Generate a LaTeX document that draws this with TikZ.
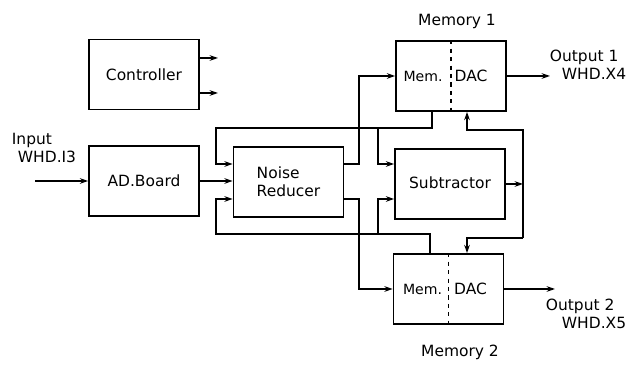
\documentclass[tikz,border=0pt]{standalone}
\usepackage{fontspec}
\newfontfamily\plotterfont{DejaVu Sans}
\usetikzlibrary{arrows.meta,positioning,calc}

\tikzset{
  blk/.style={draw,line width=1.1pt,minimum width=2.75cm,minimum height=1.75cm,inner sep=0pt},
  wire/.style={line width=1.1pt},
  txt/.style={inner sep=1pt}
}

\begin{document}
\begin{tikzpicture}[x=0.025cm,y=-0.025cm,>={Stealth[length=6pt,width=4pt]},
  font=\plotterfont\fontsize{11}{13}\selectfont]
\useasboundingbox (0,0) rectangle (637,365);
% blocks
\node[blk] (ctrl) at (144,74.5) {Controller};
\node[blk] (adb)  at (144,181) {AD.Board};
\node[blk,align=left] (nr) at (288.5,182) {Noise\\Reducer};
\node[blk] (sub)  at (450,184) {\raisebox{2pt}{Subtractor}};
\node[blk] (mem1) at (451,76) {};
\node[blk] (mem2) at (448.5,289) {};
\draw[dashed,line width=0.8pt] (mem1.north) -- (mem1.south);
\draw[dashed,line width=0.8pt] (mem2.north) -- (mem2.south);
\node[txt,font=\plotterfont\fontsize{10}{12}\selectfont] (m1mem) at ([xshift=-0.7cm]mem1.center) {Mem.};
\node[txt] (m1dac) at ([xshift=0.5cm]mem1.center) {DAC};
\node[txt,font=\plotterfont\fontsize{10}{12}\selectfont] (m2mem) at ([xshift=-0.65cm]mem2.center) {Mem.};
\node[txt] (m2dac) at ([xshift=0.55cm]mem2.center) {DAC};
% labels
\node[txt] (lm1) at (457,21) {Memory 1};
\node[txt] (lm2) at (460,352) {Memory 2};
\node[txt,align=left] (lin) at (44,148) {Input\\\hspace{0.15cm}WHD.I3};
\node[txt,align=left] (lo1) at (588,65) {Output 1\\\hspace{0.3cm}WHD.X4};
\node[txt,align=left] (lo2) at (586,314) {Output 2\\\hspace{0.4cm}WHD.X5};
% routing points
\coordinate (rowA) at (0,164);
\coordinate (rowB) at (0,199);
\coordinate (tapT) at (432,128);
\coordinate (loopTL) at (216,128);
\coordinate (brT) at (378,128);
\coordinate (tapB) at (430,234);
\coordinate (loopBL) at (216,234);
\coordinate (brB) at (378,234);
\coordinate (upX) at (359,0);
\coordinate (dacX) at (467,0);
\coordinate (sbX) at (523,0);
\coordinate (sbT) at (523,130);
\coordinate (sbB) at (523,238);
\coordinate (inp) at (35,181);
\coordinate (c1) at (218,58);
\coordinate (c2) at (218,93);
\coordinate (o1) at (550,76);
\coordinate (o2) at (555,289);
% connectors
\draw[wire,->] (c1 -| ctrl.east) -- (c1);
\draw[wire,->] (c2 -| ctrl.east) -- (c2);
\draw[wire,->] (inp) -- (inp -| adb.west);
\draw[wire,->] (adb.east) -- (adb.east -| nr.west);
\draw[wire,->] (mem1.south -| tapT) -- (tapT) -- (loopTL) |- (nr.west |- rowA);
\draw[wire,->] (brT) |- (sub.west |- rowA);
\draw[wire,->] (mem2.north -| tapB) -- (tapB) -- (loopBL) |- (nr.west |- rowB);
\draw[wire,->] (brB) |- (sub.west |- rowB);
\draw[wire,->] (nr.east |- rowA) -- (rowA -| upX) |- (mem1.west);
\draw[wire,->] (nr.east |- rowB) -- (rowB -| upX) |- (mem2.west);
\draw[wire,->] (sub.east) -- (sub.east -| sbX);
\draw[wire,->] (sbB) -- (sbT) -| (mem1.south -| dacX);
\draw[wire,->] (sbB) -| (mem2.north -| dacX);
\draw[wire,->] (mem1.east) -- (o1);
\draw[wire,->] (mem2.east) -- (o2);
\end{tikzpicture}
\end{document}
